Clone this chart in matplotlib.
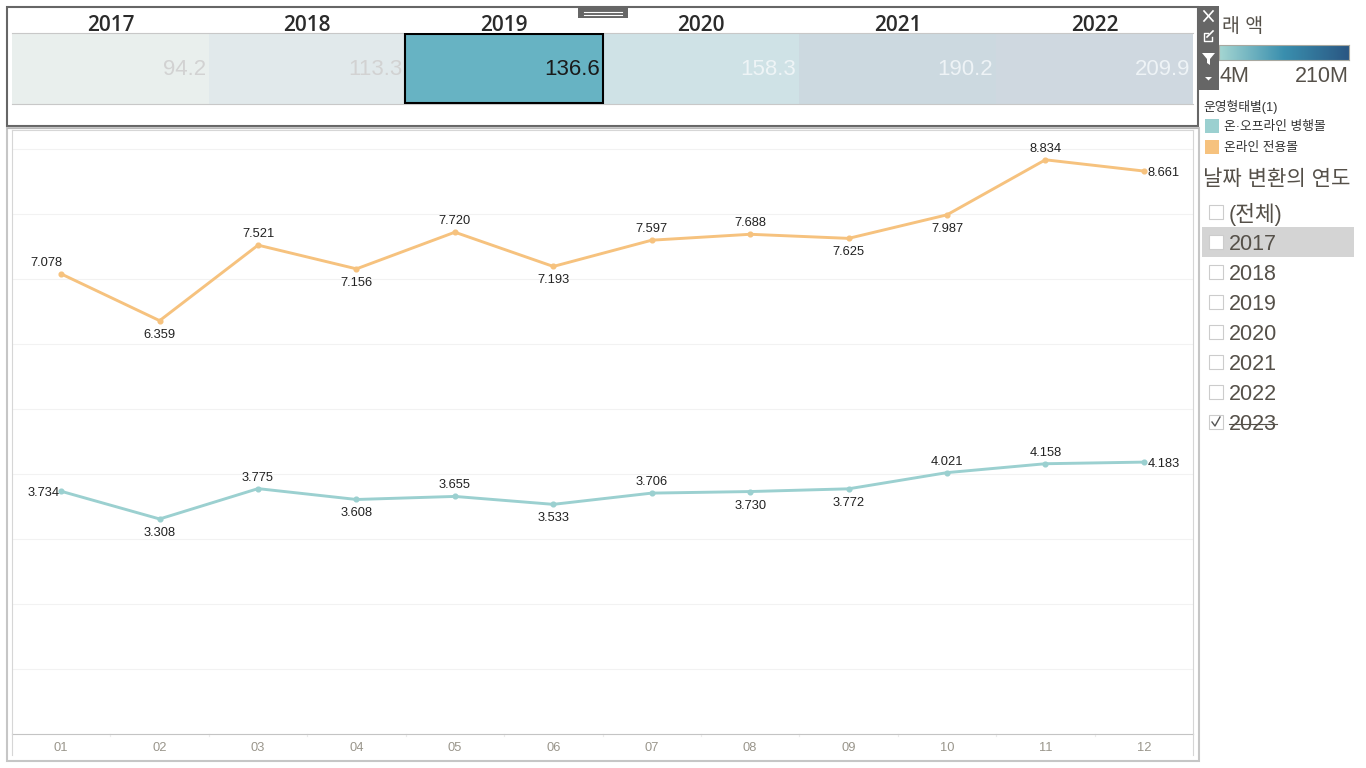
import matplotlib
matplotlib.use("Agg")
import matplotlib.pyplot as plt
from matplotlib.colors import LinearSegmentedColormap
from matplotlib.patches import Rectangle, Polygon
import numpy as np

plt.rcParams['font.family'] = ['Liberation Sans', 'Noto Sans CJK KR', 'DejaVu Sans']

W, H = 1366, 768

months = ['01', '02', '03', '04', '05', '06', '07', '08', '09', '10', '11', '12']
online_only = [7.078, 6.359, 7.521, 7.156, 7.720, 7.193, 7.597, 7.688, 7.625, 7.987, 8.834, 8.661]
on_offline = [3.734, 3.308, 3.775, 3.608, 3.655, 3.533, 3.706, 3.730, 3.772, 4.021, 4.158, 4.183]

years = ['2017', '2018', '2019', '2020', '2021', '2022']
year_sales = [94.2, 113.3, 136.6, 158.3, 190.2, 209.9]
year_colors = ['#e9efed', '#e1e9eb', '#67b3c3', '#cfe2e6', '#ccd9e0', '#cfd8e0']
year_text = ['#d2d2d2', '#d2d2d2', '#1a1a1a', '#eef4f6', '#eef3f6', '#eef3f6']

filter_items = ['(전체)', '2017', '2018', '2019', '2020', '2021', '2022', '2023']

# label placement for each point: a above, b below, n above left, w left, r right
online_pos = ['n', 'b', 'a', 'b', 'a', 'b', 'a', 'a', 'b', 'b', 'a', 'r']
mixed_pos = ['w', 'b', 'a', 'b', 'a', 'b', 'a', 'b', 'b', 'a', 'a', 'r']

TEAL = '#9bd0d0'
ORANGE = '#f6c27e'
GREY_TEXT = '#555049'


def make_axes(fig, left, top, right, bottom):
    """Axes placed by pixel box, y measured from the top of the image"""
    return fig.add_axes([left / W, 1 - bottom / H, (right - left) / W, (bottom - top) / H])


def draw_labels(ax, xs, values, positions, color):
    # offsets in pixels
    offsets = {'a': (0, 11), 'b': (0, -14), 'n': (-15, 11), 'w': (-18, -2), 'r': (20, -2)}
    for x, v, p in zip(xs, values, positions):
        ox, oy = offsets[p]
        ax.annotate(f'{v:.3f}', (x, v), xytext=(ox * 0.72, oy * 0.72), textcoords='offset points',
                    ha='center', va='center', fontsize=9.3, color=color, annotation_clip=False)


fig = plt.figure(figsize=(W / 100, H / 100), dpi=100, facecolor='white')

# page furniture in pixel coordinates
ui = fig.add_axes([0, 0, 1, 1], zorder=5)
ui.set_xlim(0, W)
ui.set_ylim(H, 0)
ui.axis('off')
ui.patch.set_alpha(0)

# main line chart
ax = make_axes(fig, 12, 130, 1193, 734)
xs = np.arange(len(months))
ax.plot(xs, online_only, color=ORANGE, lw=2.1, marker='o', ms=3.4, solid_capstyle='round')
ax.plot(xs, on_offline, color=TEAL, lw=2.1, marker='o', ms=3.4, solid_capstyle='round')
draw_labels(ax, xs, online_only, online_pos, '#222222')
draw_labels(ax, xs, on_offline, mixed_pos, '#222222')
ax.set_xlim(-0.5, 11.5)
ax.set_ylim(0, 604 / 65)
ax.set_yticks(range(1, 10))
ax.tick_params(axis='y', length=0, labelleft=False)
ax.set_xticks(xs)
ax.set_xticklabels(months, fontsize=9.3, color='#9a968c')
ax.tick_params(axis='x', length=0, pad=6)
ax.grid(axis='y', color='#f2f2f2', lw=0.8)
ax.set_axisbelow(True)
for side in ['top', 'left', 'right']:
    ax.spines[side].set_color('#d6d6d6')
    ax.spines[side].set_linewidth(0.8)
ax.spines['bottom'].set_color('#c4c4c4')
ax.spines['bottom'].set_linewidth(0.8)
# small separators between month headers
for b in xs[:-1] + 0.5:
    ax.plot([b, b], [0, -0.03], color='#ececec', lw=0.8, clip_on=False)
ui.plot([12, 12], [734, 755], color='#d6d6d6', lw=0.8)
ui.plot([1193, 1193], [734, 755], color='#d6d6d6', lw=0.8)

# yearly heat strip
hm = make_axes(fig, 12, 33, 1193, 104)
hm.bar(range(len(years)), [1] * len(years), width=1, color=year_colors)
hm.set_xlim(-0.5, 5.5)
hm.set_ylim(0, 1)
hm.set_yticks([])
hm.set_xticks(range(len(years)))
hm.set_xticklabels(years, fontsize=15, color='#2b2b2b', family='Open Sans', fontweight=600)
hm.xaxis.tick_top()
hm.tick_params(axis='x', length=0, pad=-2)
for side in ['left', 'right']:
    hm.spines[side].set_visible(False)
for side in ['top', 'bottom']:
    hm.spines[side].set_color('#c8c8c8')
    hm.spines[side].set_linewidth(0.8)
for i, v in enumerate(year_sales):
    hm.text(i + 0.485, 0.48, f'{v:.1f}', ha='right', va='center', fontsize=16, color=year_text[i])
hm.add_patch(Rectangle((1.495, 0.015), 1.01, 0.97, fill=False, ec='black', lw=1.5, zorder=4))

# frames round the two dashboard panels
ui.add_patch(Rectangle((7, 7), 1191, 119, fill=False, ec='#666666', lw=1.5))
ui.plot([7, 1198], [127.5, 127.5], color='#b8b8b8', lw=0.8)
ui.add_patch(Rectangle((7, 128), 1192, 633, fill=False, ec='#c6c6c6', lw=1.5))

# grab handle at the top of the selected panel
ui.add_patch(Rectangle((578, 7), 50, 11, fc='#666666', ec='none'))
ui.plot([584, 622], [11.5, 11.5], color='white', lw=0.8)
ui.plot([584, 622], [14.5, 14.5], color='white', lw=0.8)

# colour legend
ui.text(1222, 27, '래 액', fontsize=14, color=GREY_TEXT, ha='left', va='center')
ramp = LinearSegmentedColormap.from_list('ramp', ['#a5d6d2', '#3a8fae', '#2a5783'])
cb = make_axes(fig, 1219, 45, 1349, 60)
cb.imshow(np.linspace(0, 1, 256).reshape(1, -1), cmap=ramp, aspect='auto')
cb.set_xticks([])
cb.set_yticks([])
for s in cb.spines.values():
    s.set_color('#a8a8a0')
ui.text(1219, 77, '4M', fontsize=15.5, color=GREY_TEXT, ha='left', va='center')
ui.text(1349, 77, '210M', fontsize=15.5, color=GREY_TEXT, ha='right', va='center')

# floating toolbar
ui.add_patch(Rectangle((1199, 6), 20, 84, fc='#666666', ec='none', zorder=3))
ui.plot([1204, 1213], [11, 21], color='white', lw=1.2, zorder=4)
ui.plot([1204, 1213], [21, 11], color='white', lw=1.2, zorder=4)
ui.plot([1208, 1203.5, 1203.5, 1212, 1212], [32.5, 32.5, 41, 41, 37], color='white', lw=1, zorder=4)
ui.plot([1207, 1213], [37, 31], color='white', lw=1.2, zorder=4)
ui.add_patch(Polygon([(1202, 53), (1215, 53), (1210, 59), (1210, 65), (1207, 63), (1207, 59)], fc='white', ec='none', zorder=4))
ui.add_patch(Polygon([(1205, 77), (1212, 77), (1208.5, 80.5)], fc='white', ec='none', zorder=4))

# colour key
ui.text(1203, 107, '운영형태별(1)', fontsize=9.2, color='#333333', ha='left', va='center')
for y, c, name in [(126, TEAL, '온·오프라인 병행몰'), (147, ORANGE, '온라인 전용몰')]:
    ui.add_patch(Rectangle((1205, y - 7), 14, 14, fc=c, ec='none'))
    ui.text(1224, y + 1, name, fontsize=9.2, color='#333333', ha='left', va='center')

# year filter
ui.text(1203, 179, '날짜 변환의 연도', fontsize=15.2, color=GREY_TEXT, ha='left', va='center')
ui.add_patch(Rectangle((1202, 227), 152, 30, fc='#d4d4d4', ec='none'))
for i, name in enumerate(filter_items):
    y = 212 + i * 30
    ui.add_patch(Rectangle((1208.5, y - 7), 14, 14, fc='white', ec='#cccccc', lw=0.8))
    ui.text(1229, y + 2, name, fontsize=15.5, color=GREY_TEXT, ha='left', va='center')
    if name == '2023':
        ui.plot([1229, 1277], [y + 2, y + 2], color=GREY_TEXT, lw=0.8)
        ui.plot([1212, 1215, 1220], [y, y + 4, y - 5], color='#555555', lw=1)

fig.savefig('out.png', dpi=100)
